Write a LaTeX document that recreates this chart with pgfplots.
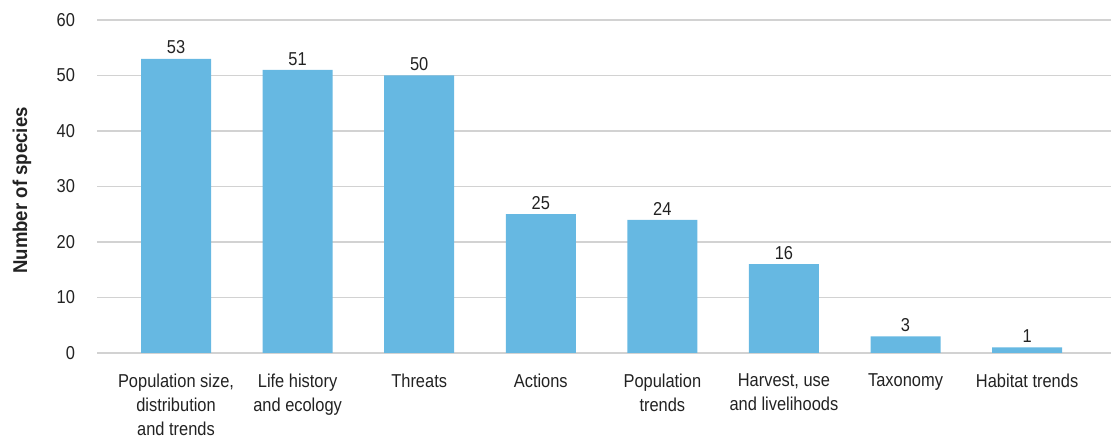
\documentclass[border=0pt]{standalone}
\usepackage{pgfplots}
\pgfplotsset{compat=1.18}
\usepackage{fontspec}
\setmainfont[FakeStretch=0.88]{Liberation Sans}
\newfontfamily\labelfont[FakeStretch=0.93]{Liberation Sans}
\definecolor{barblue}{HTML}{66B8E2}
\definecolor{gridgray}{HTML}{D2D2D2}
\definecolor{txt}{HTML}{222222}
\begin{document}
\begin{tikzpicture}
\useasboundingbox (0,0) rectangle (833.25pt,330.75pt);
\begin{axis}[
  at={(72.75pt,66pt)}, anchor=south west,
  scale only axis, width=760.5pt, height=249.75pt,
  ymin=0, ymax=60, ytick={0,10,...,60},
  xmin=-0.65, xmax=7.69,
  xtick=data,
  xticklabels={{Population size,\\distribution\\and trends},{Life history\\and ecology},{Threats},{Actions},{Population\\trends},{Harvest, use\\and livelihoods},{Taxonomy},{Habitat trends}},
  axis line style={draw=none},
  tick style={draw=none},
  ymajorgrids, grid style={gridgray, line width=1.1pt},
  /pgf/number format/assume math mode=true,
  every tick label/.append style={font=\fontsize{14}{18}\selectfont, text=txt},
  xticklabel style={align=center, anchor=north, yshift=-8pt},
  yticklabel style={xshift=-13pt},
  ylabel={Number of species},
  every axis y label/.style={at={(axis description cs:-0.074,0.488)}, rotate=90, anchor=center, font=\labelfont\bfseries\fontsize{15}{17}\selectfont, text=txt},
  ybar, bar width=52.5pt,
  nodes near coords,
  every node near coord/.append style={font=\fontsize{14}{16}\selectfont, text=txt, yshift=0pt},
]
\addplot[fill=barblue, draw=none] coordinates {(0,53) (1,51) (2,50) (3,25) (4,24) (5,16) (6,3) (7,1)};
\end{axis}
\end{tikzpicture}
\end{document}
